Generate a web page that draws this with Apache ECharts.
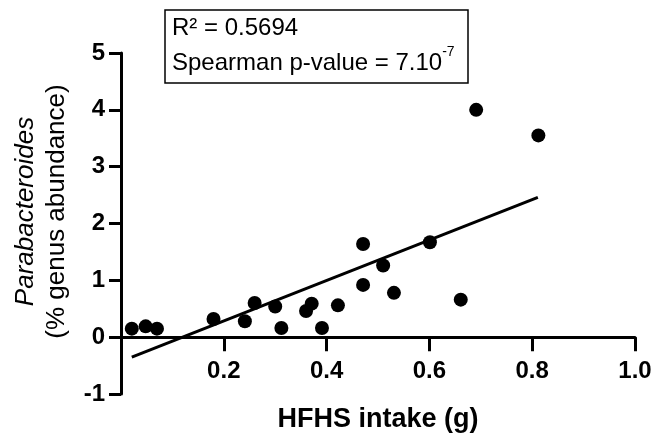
<!DOCTYPE html>
<html>
<head>
<meta charset="utf-8">
<script src="https://cdn.jsdelivr.net/npm/echarts@6/dist/echarts.min.js"></script>
<style>
  html, body { margin: 0; padding: 0; background: #fff; }
  #chart { width: 655px; height: 441px; }
</style>
</head>
<body>
<div id="chart"></div>
<script>
// HFHS intake (g) vs Parabacteroides abundance
const intake = [0.021, 0.048, 0.070, 0.18, 0.241, 0.26, 0.30, 0.312, 0.36, 0.371,
  0.391, 0.422, 0.471, 0.471, 0.51, 0.531, 0.601, 0.661, 0.691, 0.812]
const abundance = [0.15, 0.19, 0.15, 0.32, 0.28, 0.60, 0.54, 0.16, 0.46, 0.59,
  0.16, 0.56, 1.64, 0.92, 1.26, 0.78, 1.67, 0.66, 4.0, 3.55]
// fitted line end points
const fitX = [0.021, 0.811]
const fitY = [-0.35, 2.46]
const xTicks = [0.2, 0.4, 0.6, 0.8, 1.0]
const yTicks = [-1, 0, 1, 2, 3, 4, 5]

const font = "'Liberation Sans', Arial, sans-serif"

const gridTop = 53, gridBottom = 47
const plotH = 441 - gridTop - gridBottom
// x axis sits on y = 0, one unit above the bottom of the y range
const zeroOffset = plotH / 6

const chart = echarts.init(document.getElementById('chart'))
chart.setOption({
  animation: false,
  grid: { left: 121, right: 20, top: gridTop, bottom: gridBottom, outerBoundsMode: 'none' },
  xAxis: {
    type: 'value',
    min: 0,
    max: 1,
    interval: 0.2,
    offset: -zeroOffset,
    name: 'HFHS intake (g)',
    nameLocation: 'middle',
    nameGap: 69,
    nameTextStyle: { fontFamily: font, fontWeight: 'bold', fontSize: 27, color: '#000' },
    axisLine: { onZero: false, lineStyle: { color: '#000', width: 3 } },
    axisTick: { length: 14, lineStyle: { color: '#000', width: 3 } },
    axisLabel: {
      margin: 22,
      fontFamily: font, fontWeight: 'bold', fontSize: 24, color: '#000',
      formatter: v => xTicks.some(t => Math.abs(t - v) < 1e-6) ? v.toFixed(1) : ''
    },
    splitLine: { show: false }
  },
  yAxis: {
    type: 'value',
    min: -1,
    max: 5,
    interval: 1,
    name: '{i|Parabacteroides}\n{n|(% genus abundance)}',
    nameLocation: 'middle',
    nameRotate: 90,
    nameGap: 49,
    nameTextStyle: {
      padding: [0, 0, 0, 24],
      rich: {
        i: { fontFamily: font, fontStyle: 'italic', fontSize: 26, color: '#000', lineHeight: 31 },
        n: { fontFamily: font, fontSize: 26, color: '#000', lineHeight: 31 }
      }
    },
    axisLine: { show: true, onZero: false, lineStyle: { color: '#000', width: 3 } },
    axisTick: { show: true, length: 12, lineStyle: { color: '#000', width: 3 } },
    axisLabel: {
      margin: 16,
      fontFamily: font, fontWeight: 'bold', fontSize: 24, color: '#000',
      formatter: v => yTicks.includes(v) ? String(v) : ''
    },
    splitLine: { show: false }
  },
  graphic: [
    {
      type: 'rect',
      shape: { x: 165, y: 10, width: 303, height: 73 },
      style: { fill: '#fff', stroke: '#000', lineWidth: 1.5 }
    },
    {
      type: 'text',
      left: 172,
      top: 16,
      style: {
        text: '{a|R² = 0.5694}\n{a|Spearman p-value = 7.10}{s|-7}',
        rich: {
          a: { fontFamily: font, fontSize: 24, fill: '#000', lineHeight: 35 },
          s: { fontFamily: font, fontSize: 14, fill: '#000', verticalAlign: 'top', lineHeight: 35, padding: [0, 0, 15, 0] }
        }
      }
    }
  ],
  series: [
    {
      type: 'line',
      data: fitX.map((x, i) => [x, fitY[i]]),
      showSymbol: false,
      lineStyle: { color: '#000', width: 3 },
      z: 2
    },
    {
      type: 'scatter',
      data: intake.map((x, i) => [x, abundance[i]]),
      symbol: 'circle',
      symbolSize: 14,
      itemStyle: { color: '#000', opacity: 1 },
      z: 3
    }
  ]
})
</script>
</body>
</html>
